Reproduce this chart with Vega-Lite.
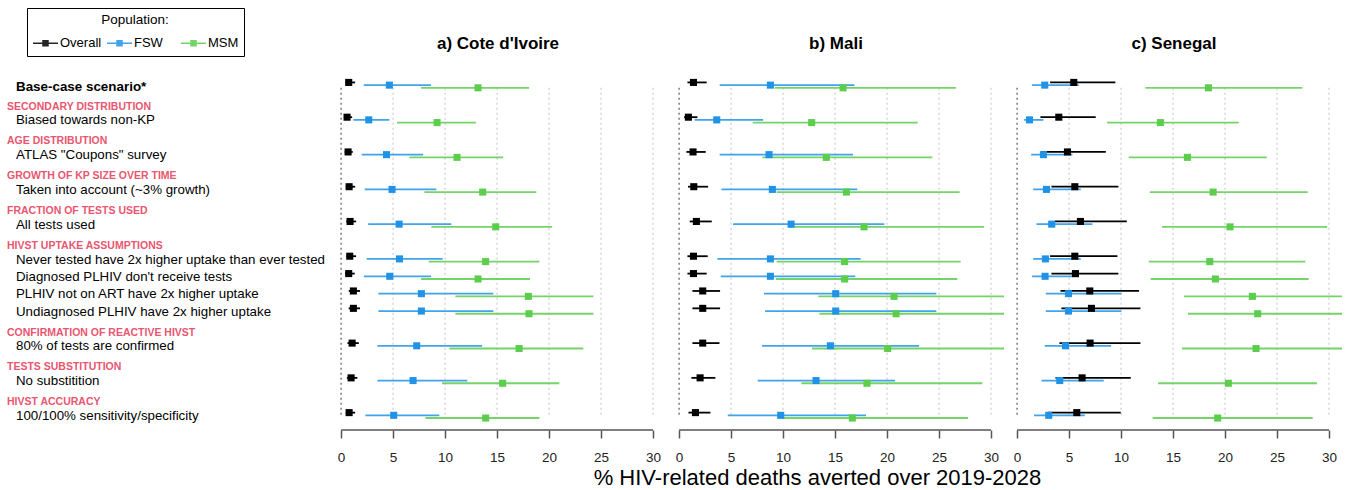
{
  "$schema": "https://vega.github.io/schema/vega-lite/v6.json",
  "background": "white",
  "padding": {"left": 7, "top": 7, "right": 0, "bottom": 0},
  "spacing": 10,
  "bounds": "flush",
  "datasets": {
    "labels": [
      {"t": "Base-case scenario*", "r": 0, "k": "b"},
      {"t": "SECONDARY DISTRIBUTION", "r": 2, "k": "h"},
      {"t": "Biased towards non-KP", "r": 2, "k": "l"},
      {"t": "AGE DISTRIBUTION", "r": 4, "k": "h"},
      {"t": "ATLAS \"Coupons\" survey", "r": 4, "k": "l"},
      {"t": "GROWTH OF KP SIZE OVER TIME", "r": 6, "k": "h"},
      {"t": "Taken into account (~3% growth)", "r": 6, "k": "l"},
      {"t": "FRACTION OF TESTS USED", "r": 8, "k": "h"},
      {"t": "All tests used", "r": 8, "k": "l"},
      {"t": "HIVST UPTAKE ASSUMPTIONS", "r": 10, "k": "h"},
      {"t": "Never tested have 2x higher uptake than ever tested", "r": 10, "k": "l"},
      {"t": "Diagnosed PLHIV don't receive tests", "r": 11, "k": "l"},
      {"t": "PLHIV not on ART have 2x higher uptake", "r": 12, "k": "l"},
      {"t": "Undiagnosed PLHIV have 2x higher uptake", "r": 13, "k": "l"},
      {"t": "CONFIRMATION OF REACTIVE HIVST", "r": 15, "k": "h"},
      {"t": "80% of tests are confirmed", "r": 15, "k": "l"},
      {"t": "TESTS SUBSTITUTION", "r": 17, "k": "h"},
      {"t": "No substitition", "r": 17, "k": "l"},
      {"t": "HIVST ACCURACY", "r": 19, "k": "h"},
      {"t": "100/100% sensitivity/specificity", "r": 19, "k": "l"}
    ],
    "gridvals": [{"v": 0}, {"v": 5}, {"v": 10}, {"v": 15}, {"v": 20}, {"v": 25}, {"v": 30}],
    "single": [{"n": 1}],
    "d": [
      {"c": "a", "r": 0, "g": "Overall", "m": 0.73, "lo": 0.4, "hi": 1.35},
      {"c": "a", "r": 0, "g": "FSW", "m": 4.64, "lo": 2.18, "hi": 8.65},
      {"c": "a", "r": 0, "g": "MSM", "m": 13.17, "lo": 7.69, "hi": 18.08},
      {"c": "a", "r": 2, "g": "Overall", "m": 0.57, "lo": 0.3, "hi": 1.06},
      {"c": "a", "r": 2, "g": "FSW", "m": 2.66, "lo": 1.18, "hi": 4.64},
      {"c": "a", "r": 2, "g": "MSM", "m": 9.23, "lo": 5.38, "hi": 12.98},
      {"c": "a", "r": 4, "g": "Overall", "m": 0.67, "lo": 0.35, "hi": 1.12},
      {"c": "a", "r": 4, "g": "FSW", "m": 4.36, "lo": 1.98, "hi": 7.88},
      {"c": "a", "r": 4, "g": "MSM", "m": 11.15, "lo": 6.57, "hi": 15.58},
      {"c": "a", "r": 6, "g": "Overall", "m": 0.77, "lo": 0.45, "hi": 1.35},
      {"c": "a", "r": 6, "g": "FSW", "m": 4.9, "lo": 2.27, "hi": 9.16},
      {"c": "a", "r": 6, "g": "MSM", "m": 13.62, "lo": 8.01, "hi": 18.78},
      {"c": "a", "r": 8, "g": "Overall", "m": 0.86, "lo": 0.5, "hi": 1.44},
      {"c": "a", "r": 8, "g": "FSW", "m": 5.58, "lo": 2.6, "hi": 10.6},
      {"c": "a", "r": 8, "g": "MSM", "m": 14.87, "lo": 8.68, "hi": 20.29},
      {"c": "a", "r": 10, "g": "Overall", "m": 0.83, "lo": 0.5, "hi": 1.44},
      {"c": "a", "r": 10, "g": "FSW", "m": 5.61, "lo": 2.46, "hi": 9.77},
      {"c": "a", "r": 10, "g": "MSM", "m": 13.9, "lo": 8.42, "hi": 19.07},
      {"c": "a", "r": 11, "g": "Overall", "m": 0.73, "lo": 0.4, "hi": 1.31},
      {"c": "a", "r": 11, "g": "FSW", "m": 4.68, "lo": 2.18, "hi": 8.65},
      {"c": "a", "r": 11, "g": "MSM", "m": 13.17, "lo": 7.69, "hi": 18.17},
      {"c": "a", "r": 12, "g": "Overall", "m": 1.18, "lo": 0.73, "hi": 1.82},
      {"c": "a", "r": 12, "g": "FSW", "m": 7.72, "lo": 3.59, "hi": 14.64},
      {"c": "a", "r": 12, "g": "MSM", "m": 18.01, "lo": 10.99, "hi": 24.26},
      {"c": "a", "r": 13, "g": "Overall", "m": 1.18, "lo": 0.73, "hi": 1.82},
      {"c": "a", "r": 13, "g": "FSW", "m": 7.72, "lo": 3.59, "hi": 14.64},
      {"c": "a", "r": 13, "g": "MSM", "m": 18.07, "lo": 10.99, "hi": 24.26},
      {"c": "a", "r": 15, "g": "Overall", "m": 1.06, "lo": 0.61, "hi": 1.7},
      {"c": "a", "r": 15, "g": "FSW", "m": 7.27, "lo": 3.49, "hi": 13.56},
      {"c": "a", "r": 15, "g": "MSM", "m": 17.12, "lo": 10.41, "hi": 23.3},
      {"c": "a", "r": 17, "g": "Overall", "m": 0.96, "lo": 0.55, "hi": 1.56},
      {"c": "a", "r": 17, "g": "FSW", "m": 6.92, "lo": 3.49, "hi": 12.14},
      {"c": "a", "r": 17, "g": "MSM", "m": 15.54, "lo": 9.71, "hi": 20.99},
      {"c": "a", "r": 19, "g": "Overall", "m": 0.77, "lo": 0.45, "hi": 1.35},
      {"c": "a", "r": 19, "g": "FSW", "m": 5.06, "lo": 2.34, "hi": 9.45},
      {"c": "a", "r": 19, "g": "MSM", "m": 13.9, "lo": 8.11, "hi": 19.07},
      {"c": "b", "r": 0, "g": "Overall", "m": 1.38, "lo": 0.8, "hi": 2.65},
      {"c": "b", "r": 0, "g": "FSW", "m": 8.78, "lo": 3.9, "hi": 16.86},
      {"c": "b", "r": 0, "g": "MSM", "m": 15.77, "lo": 9.19, "hi": 26.63},
      {"c": "b", "r": 2, "g": "Overall", "m": 0.89, "lo": 0.48, "hi": 1.76},
      {"c": "b", "r": 2, "g": "FSW", "m": 3.62, "lo": 1.5, "hi": 8.08},
      {"c": "b", "r": 2, "g": "MSM", "m": 12.75, "lo": 7.08, "hi": 22.94},
      {"c": "b", "r": 4, "g": "Overall", "m": 1.34, "lo": 0.7, "hi": 2.56},
      {"c": "b", "r": 4, "g": "FSW", "m": 8.65, "lo": 3.9, "hi": 16.73},
      {"c": "b", "r": 4, "g": "MSM", "m": 14.16, "lo": 8.01, "hi": 24.36},
      {"c": "b", "r": 6, "g": "Overall", "m": 1.41, "lo": 0.86, "hi": 2.79},
      {"c": "b", "r": 6, "g": "FSW", "m": 8.97, "lo": 4.07, "hi": 17.14},
      {"c": "b", "r": 6, "g": "MSM", "m": 16.09, "lo": 9.38, "hi": 26.98},
      {"c": "b", "r": 8, "g": "Overall", "m": 1.66, "lo": 1.02, "hi": 3.14},
      {"c": "b", "r": 8, "g": "FSW", "m": 10.77, "lo": 5.19, "hi": 19.74},
      {"c": "b", "r": 8, "g": "MSM", "m": 17.79, "lo": 10.58, "hi": 29.33},
      {"c": "b", "r": 10, "g": "Overall", "m": 1.38, "lo": 0.8, "hi": 2.75},
      {"c": "b", "r": 10, "g": "FSW", "m": 8.78, "lo": 3.68, "hi": 17.46},
      {"c": "b", "r": 10, "g": "MSM", "m": 15.92, "lo": 9.38, "hi": 27.08},
      {"c": "b", "r": 11, "g": "Overall", "m": 1.38, "lo": 0.8, "hi": 2.65},
      {"c": "b", "r": 11, "g": "FSW", "m": 8.78, "lo": 4.0, "hi": 16.95},
      {"c": "b", "r": 11, "g": "MSM", "m": 15.92, "lo": 9.29, "hi": 26.76},
      {"c": "b", "r": 12, "g": "Overall", "m": 2.27, "lo": 1.28, "hi": 3.94},
      {"c": "b", "r": 12, "g": "FSW", "m": 15.06, "lo": 8.17, "hi": 24.74},
      {"c": "b", "r": 12, "g": "MSM", "m": 20.67, "lo": 13.39, "hi": 33.5},
      {"c": "b", "r": 13, "g": "Overall", "m": 2.27, "lo": 1.28, "hi": 3.94},
      {"c": "b", "r": 13, "g": "FSW", "m": 15.06, "lo": 8.27, "hi": 24.74},
      {"c": "b", "r": 13, "g": "MSM", "m": 20.87, "lo": 13.49, "hi": 33.7},
      {"c": "b", "r": 15, "g": "Overall", "m": 2.27, "lo": 1.28, "hi": 3.88},
      {"c": "b", "r": 15, "g": "FSW", "m": 14.55, "lo": 7.98, "hi": 23.08},
      {"c": "b", "r": 15, "g": "MSM", "m": 20.06, "lo": 12.79, "hi": 32.4},
      {"c": "b", "r": 17, "g": "Overall", "m": 2.02, "lo": 1.18, "hi": 3.49},
      {"c": "b", "r": 17, "g": "FSW", "m": 13.17, "lo": 7.56, "hi": 20.77},
      {"c": "b", "r": 17, "g": "MSM", "m": 18.07, "lo": 11.76, "hi": 29.16},
      {"c": "b", "r": 19, "g": "Overall", "m": 1.57, "lo": 0.9, "hi": 3.01},
      {"c": "b", "r": 19, "g": "FSW", "m": 9.77, "lo": 4.68, "hi": 17.98},
      {"c": "b", "r": 19, "g": "MSM", "m": 16.66, "lo": 9.77, "hi": 27.79},
      {"c": "c", "r": 0, "g": "Overall", "m": 5.45, "lo": 3.17, "hi": 9.45},
      {"c": "c", "r": 0, "g": "FSW", "m": 2.66, "lo": 1.44, "hi": 5.93},
      {"c": "c", "r": 0, "g": "MSM", "m": 18.4, "lo": 12.34, "hi": 27.44},
      {"c": "c", "r": 2, "g": "Overall", "m": 4.01, "lo": 2.24, "hi": 7.56},
      {"c": "c", "r": 2, "g": "FSW", "m": 1.19, "lo": 0.67, "hi": 2.53},
      {"c": "c", "r": 2, "g": "MSM", "m": 13.78, "lo": 8.65, "hi": 21.31},
      {"c": "c", "r": 4, "g": "Overall", "m": 4.84, "lo": 2.34, "hi": 8.53},
      {"c": "c", "r": 4, "g": "FSW", "m": 2.53, "lo": 1.35, "hi": 5.32},
      {"c": "c", "r": 4, "g": "MSM", "m": 16.38, "lo": 10.74, "hi": 24.01},
      {"c": "c", "r": 6, "g": "Overall", "m": 5.55, "lo": 3.3, "hi": 9.74},
      {"c": "c", "r": 6, "g": "FSW", "m": 2.82, "lo": 1.54, "hi": 6.12},
      {"c": "c", "r": 6, "g": "MSM", "m": 18.85, "lo": 12.76, "hi": 27.95},
      {"c": "c", "r": 8, "g": "Overall", "m": 6.09, "lo": 3.62, "hi": 10.55},
      {"c": "c", "r": 8, "g": "FSW", "m": 3.33, "lo": 1.86, "hi": 7.24},
      {"c": "c", "r": 8, "g": "MSM", "m": 20.48, "lo": 13.94, "hi": 29.81},
      {"c": "c", "r": 10, "g": "Overall", "m": 5.55, "lo": 3.17, "hi": 9.65},
      {"c": "c", "r": 10, "g": "FSW", "m": 2.72, "lo": 1.54, "hi": 6.12},
      {"c": "c", "r": 10, "g": "MSM", "m": 18.53, "lo": 12.66, "hi": 27.72},
      {"c": "c", "r": 11, "g": "Overall", "m": 5.61, "lo": 3.3, "hi": 9.74},
      {"c": "c", "r": 11, "g": "FSW", "m": 2.69, "lo": 1.44, "hi": 5.93},
      {"c": "c", "r": 11, "g": "MSM", "m": 19.07, "lo": 12.85, "hi": 28.04},
      {"c": "c", "r": 12, "g": "Overall", "m": 6.99, "lo": 4.17, "hi": 11.73},
      {"c": "c", "r": 12, "g": "FSW", "m": 4.94, "lo": 2.76, "hi": 10.03},
      {"c": "c", "r": 12, "g": "MSM", "m": 22.63, "lo": 16.06, "hi": 32.5},
      {"c": "c", "r": 13, "g": "Overall", "m": 7.15, "lo": 4.26, "hi": 11.86},
      {"c": "c", "r": 13, "g": "FSW", "m": 4.94, "lo": 2.76, "hi": 10.03},
      {"c": "c", "r": 13, "g": "MSM", "m": 23.14, "lo": 16.44, "hi": 33.0},
      {"c": "c", "r": 15, "g": "Overall", "m": 7.02, "lo": 4.07, "hi": 11.86},
      {"c": "c", "r": 15, "g": "FSW", "m": 4.65, "lo": 2.66, "hi": 9.04},
      {"c": "c", "r": 15, "g": "MSM", "m": 22.98, "lo": 15.87, "hi": 32.8},
      {"c": "c", "r": 17, "g": "Overall", "m": 6.25, "lo": 3.69, "hi": 10.93},
      {"c": "c", "r": 17, "g": "FSW", "m": 4.1, "lo": 2.34, "hi": 8.33},
      {"c": "c", "r": 17, "g": "MSM", "m": 20.32, "lo": 13.56, "hi": 28.85},
      {"c": "c", "r": 19, "g": "Overall", "m": 5.74, "lo": 2.98, "hi": 9.97},
      {"c": "c", "r": 19, "g": "FSW", "m": 3.04, "lo": 1.63, "hi": 6.51},
      {"c": "c", "r": 19, "g": "MSM", "m": 19.29, "lo": 13.04, "hi": 28.43}
    ]
  },
  "hconcat": [
    {
      "width": 321, "height": 358,
      "data": {"name": "labels"},
      "encoding": {
        "x": {"datum": 0, "type": "quantitative", "scale": {"domain": [0, 100], "nice": false, "zero": false}, "axis": null},
        "y": {"field": "r", "type": "quantitative", "scale": {"domain": [-0.6, 20], "reverse": true, "nice": false, "zero": false}, "axis": null},
        "text": {"field": "t"}
      },
      "layer": [
        {"transform": [{"filter": "datum.k === 'h'"}], "mark": {"type": "text", "align": "left", "baseline": "middle", "font": "Liberation Sans", "fontSize": 10.5, "fontWeight": "bold", "color": "#e9566f", "dy": -10.6}},
        {"transform": [{"filter": "datum.k === 'l'"}], "mark": {"type": "text", "align": "left", "baseline": "middle", "font": "Liberation Sans", "fontSize": 13.3, "color": "#000000", "dx": 9, "dy": 3.3}},
        {"transform": [{"filter": "datum.k === 'b'"}], "mark": {"type": "text", "align": "left", "baseline": "middle", "font": "Liberation Sans", "fontSize": 13.4, "fontWeight": "bold", "color": "#000000", "dx": 9, "dy": 4.3}}
      ]
    },
    {
      "width": 328, "height": 358,
      "title": {"text": "a) Cote d'Ivoire", "dx": -4},
      "layer": [
        {"data": {"name": "gridvals"},
         "mark": {"type": "rule", "strokeDash": [2, 3], "strokeWidth": 1.5},
         "encoding": {
           "x": {"field": "v", "type": "quantitative", "scale": {"domain": [-0.3, 31.25], "nice": false, "zero": false}, "axis": {"values": [0, 5, 10, 15, 20, 25, 30], "title": null}},
           "y": {"datum": 0.3, "type": "quantitative", "scale": {"domain": [-0.6, 20], "reverse": true, "nice": false, "zero": false}, "axis": null},
           "y2": {"datum": 19.23},
           "color": {"condition": {"test": "datum.v === 0", "value": "#7a7a7a"}, "value": "#d6d6d6"}}},
        {"data": {"name": "single"}, "mark": {"type": "rule", "strokeWidth": 1.5, "color": "#555555"},
         "encoding": {"x": {"datum": 0, "type": "quantitative"}, "x2": {"datum": 30}, "y": {"datum": 20, "type": "quantitative"}}},
        {"data": {"name": "d"}, "transform": [{"filter": "datum.c === 'a' && datum.g === 'Overall'"}], "mark": {"type": "rule", "clip": true, "strokeWidth": 1.8},
         "encoding": {"x": {"field": "lo", "type": "quantitative"}, "x2": {"field": "hi"}, "y": {"field": "r", "type": "quantitative"},
           "color": {"field": "g", "type": "nominal", "scale": {"domain": ["Overall", "FSW", "MSM"], "range": ["#000000", "#2093e6", "#5ccd4d"]},
             "legend": {"title": "Population:", "orient": "none", "legendX": 20, "legendY": -64, "direction": "horizontal", "columns": 3, "gridAlign": "all", "columnPadding": 2, "labelOffset": 1, "padding": 5, "strokeColor": "#000000", "titleAnchor": "middle", "titleFontSize": 13.5, "titleFontWeight": "normal", "titleFont": "Liberation Sans", "titleColor": "#000000", "titlePadding": 3, "labelFontSize": 13, "labelFont": "Liberation Sans", "labelColor": "#000000", "symbolSize": 625, "symbolStrokeWidth": 1.5, "symbolType": "M-1,0H1M-0.2,-0.2H0.2V0.2H-0.2Z", "symbolOpacity": 1}}}},
        {"data": {"name": "d"}, "transform": [{"filter": "datum.c === 'a' && datum.g === 'FSW'"}], "mark": {"type": "rule", "clip": true, "strokeWidth": 1.8, "opacity": 0.85, "yOffset": 2.7},
         "encoding": {"x": {"field": "lo", "type": "quantitative"}, "x2": {"field": "hi"}, "y": {"field": "r", "type": "quantitative"}, "color": {"field": "g", "type": "nominal"}}},
        {"data": {"name": "d"}, "transform": [{"filter": "datum.c === 'a' && datum.g === 'MSM'"}], "mark": {"type": "rule", "clip": true, "strokeWidth": 1.8, "opacity": 0.85, "yOffset": 5.4},
         "encoding": {"x": {"field": "lo", "type": "quantitative"}, "x2": {"field": "hi"}, "y": {"field": "r", "type": "quantitative"}, "color": {"field": "g", "type": "nominal"}}},
        {"data": {"name": "d"}, "transform": [{"filter": "datum.c === 'a' && datum.g === 'Overall'"}], "mark": {"type": "square", "filled": true, "opacity": 1, "size": 50},
         "encoding": {"x": {"field": "m", "type": "quantitative"}, "y": {"field": "r", "type": "quantitative"}, "color": {"field": "g", "type": "nominal"}}},
        {"data": {"name": "d"}, "transform": [{"filter": "datum.c === 'a' && datum.g === 'FSW'"}], "mark": {"type": "square", "filled": true, "opacity": 1, "size": 50, "yOffset": 2.7},
         "encoding": {"x": {"field": "m", "type": "quantitative"}, "y": {"field": "r", "type": "quantitative"}, "color": {"field": "g", "type": "nominal"}}},
        {"data": {"name": "d"}, "transform": [{"filter": "datum.c === 'a' && datum.g === 'MSM'"}], "mark": {"type": "square", "filled": true, "opacity": 1, "size": 50, "yOffset": 5.4},
         "encoding": {"x": {"field": "m", "type": "quantitative"}, "y": {"field": "r", "type": "quantitative"}, "color": {"field": "g", "type": "nominal"}}}
      ]
    },
    {
      "width": 328, "height": 358,
      "title": {"text": "b) Mali", "dx": -4},
      "layer": [
        {"data": {"name": "gridvals"},
         "mark": {"type": "rule", "strokeDash": [2, 3], "strokeWidth": 1.5},
         "encoding": {
           "x": {"field": "v", "type": "quantitative", "scale": {"domain": [-0.3, 31.25], "nice": false, "zero": false}, "axis": {"values": [0, 5, 10, 15, 20, 25, 30], "title": "% HIV-related deaths averted over 2019-2028", "titleFontSize": 22, "titleFontWeight": "normal", "titleFont": "Liberation Sans", "titleColor": "#000000", "titleX": 141, "titleY": 54, "titleAlign": "center", "titleBaseline": "alphabetic", "titleAnchor": null}},
           "y": {"datum": 0.3, "type": "quantitative", "scale": {"domain": [-0.6, 20], "reverse": true, "nice": false, "zero": false}, "axis": null},
           "y2": {"datum": 19.23},
           "color": {"condition": {"test": "datum.v === 0", "value": "#7a7a7a"}, "value": "#d6d6d6"}}},
        {"data": {"name": "single"}, "mark": {"type": "rule", "strokeWidth": 1.5, "color": "#555555"},
         "encoding": {"x": {"datum": 0, "type": "quantitative"}, "x2": {"datum": 30}, "y": {"datum": 20, "type": "quantitative"}}},
        {"data": {"name": "d"}, "transform": [{"filter": "datum.c === 'b' && datum.g === 'Overall'"}], "mark": {"type": "rule", "clip": true, "strokeWidth": 1.8},
         "encoding": {"x": {"field": "lo", "type": "quantitative"}, "x2": {"field": "hi"}, "y": {"field": "r", "type": "quantitative"}, "color": {"field": "g", "type": "nominal", "scale": {"domain": ["Overall", "FSW", "MSM"], "range": ["#000000", "#2093e6", "#5ccd4d"]}}}},
        {"data": {"name": "d"}, "transform": [{"filter": "datum.c === 'b' && datum.g === 'FSW'"}], "mark": {"type": "rule", "clip": true, "strokeWidth": 1.8, "opacity": 0.85, "yOffset": 2.7},
         "encoding": {"x": {"field": "lo", "type": "quantitative"}, "x2": {"field": "hi"}, "y": {"field": "r", "type": "quantitative"}, "color": {"field": "g", "type": "nominal"}}},
        {"data": {"name": "d"}, "transform": [{"filter": "datum.c === 'b' && datum.g === 'MSM'"}], "mark": {"type": "rule", "clip": true, "strokeWidth": 1.8, "opacity": 0.85, "yOffset": 5.4},
         "encoding": {"x": {"field": "lo", "type": "quantitative"}, "x2": {"field": "hi"}, "y": {"field": "r", "type": "quantitative"}, "color": {"field": "g", "type": "nominal"}}},
        {"data": {"name": "d"}, "transform": [{"filter": "datum.c === 'b' && datum.g === 'Overall'"}], "mark": {"type": "square", "filled": true, "opacity": 1, "size": 50},
         "encoding": {"x": {"field": "m", "type": "quantitative"}, "y": {"field": "r", "type": "quantitative"}, "color": {"field": "g", "type": "nominal"}}},
        {"data": {"name": "d"}, "transform": [{"filter": "datum.c === 'b' && datum.g === 'FSW'"}], "mark": {"type": "square", "filled": true, "opacity": 1, "size": 50, "yOffset": 2.7},
         "encoding": {"x": {"field": "m", "type": "quantitative"}, "y": {"field": "r", "type": "quantitative"}, "color": {"field": "g", "type": "nominal"}}},
        {"data": {"name": "d"}, "transform": [{"filter": "datum.c === 'b' && datum.g === 'MSM'"}], "mark": {"type": "square", "filled": true, "opacity": 1, "size": 50, "yOffset": 5.4},
         "encoding": {"x": {"field": "m", "type": "quantitative"}, "y": {"field": "r", "type": "quantitative"}, "color": {"field": "g", "type": "nominal"}}}
      ]
    },
    {
      "width": 328, "height": 358,
      "title": {"text": "c) Senegal", "dx": -4},
      "layer": [
        {"data": {"name": "gridvals"},
         "mark": {"type": "rule", "strokeDash": [2, 3], "strokeWidth": 1.5},
         "encoding": {
           "x": {"field": "v", "type": "quantitative", "scale": {"domain": [-0.3, 31.25], "nice": false, "zero": false}, "axis": {"values": [0, 5, 10, 15, 20, 25, 30], "title": null}},
           "y": {"datum": 0.3, "type": "quantitative", "scale": {"domain": [-0.6, 20], "reverse": true, "nice": false, "zero": false}, "axis": null},
           "y2": {"datum": 19.23},
           "color": {"condition": {"test": "datum.v === 0", "value": "#7a7a7a"}, "value": "#d6d6d6"}}},
        {"data": {"name": "single"}, "mark": {"type": "rule", "strokeWidth": 1.5, "color": "#555555"},
         "encoding": {"x": {"datum": 0, "type": "quantitative"}, "x2": {"datum": 30}, "y": {"datum": 20, "type": "quantitative"}}},
        {"data": {"name": "d"}, "transform": [{"filter": "datum.c === 'c' && datum.g === 'Overall'"}], "mark": {"type": "rule", "clip": true, "strokeWidth": 1.8},
         "encoding": {"x": {"field": "lo", "type": "quantitative"}, "x2": {"field": "hi"}, "y": {"field": "r", "type": "quantitative"}, "color": {"field": "g", "type": "nominal", "scale": {"domain": ["Overall", "FSW", "MSM"], "range": ["#000000", "#2093e6", "#5ccd4d"]}}}},
        {"data": {"name": "d"}, "transform": [{"filter": "datum.c === 'c' && datum.g === 'FSW'"}], "mark": {"type": "rule", "clip": true, "strokeWidth": 1.8, "opacity": 0.85, "yOffset": 2.7},
         "encoding": {"x": {"field": "lo", "type": "quantitative"}, "x2": {"field": "hi"}, "y": {"field": "r", "type": "quantitative"}, "color": {"field": "g", "type": "nominal"}}},
        {"data": {"name": "d"}, "transform": [{"filter": "datum.c === 'c' && datum.g === 'MSM'"}], "mark": {"type": "rule", "clip": true, "strokeWidth": 1.8, "opacity": 0.85, "yOffset": 5.4},
         "encoding": {"x": {"field": "lo", "type": "quantitative"}, "x2": {"field": "hi"}, "y": {"field": "r", "type": "quantitative"}, "color": {"field": "g", "type": "nominal"}}},
        {"data": {"name": "d"}, "transform": [{"filter": "datum.c === 'c' && datum.g === 'Overall'"}], "mark": {"type": "square", "filled": true, "opacity": 1, "size": 50},
         "encoding": {"x": {"field": "m", "type": "quantitative"}, "y": {"field": "r", "type": "quantitative"}, "color": {"field": "g", "type": "nominal"}}},
        {"data": {"name": "d"}, "transform": [{"filter": "datum.c === 'c' && datum.g === 'FSW'"}], "mark": {"type": "square", "filled": true, "opacity": 1, "size": 50, "yOffset": 2.7},
         "encoding": {"x": {"field": "m", "type": "quantitative"}, "y": {"field": "r", "type": "quantitative"}, "color": {"field": "g", "type": "nominal"}}},
        {"data": {"name": "d"}, "transform": [{"filter": "datum.c === 'c' && datum.g === 'MSM'"}], "mark": {"type": "square", "filled": true, "opacity": 1, "size": 50, "yOffset": 5.4},
         "encoding": {"x": {"field": "m", "type": "quantitative"}, "y": {"field": "r", "type": "quantitative"}, "color": {"field": "g", "type": "nominal"}}}
      ]
    }
  ],
  "config": {
    "view": {"stroke": null},
    "font": "Liberation Sans",
    "title": {"font": "Liberation Sans", "fontSize": 17, "fontWeight": "bold", "color": "#000000", "anchor": "middle", "offset": 19, "baseline": "bottom"},
    "axisX": {"domain": false, "grid": false, "ticks": true, "tickSize": 8, "tickColor": "#555555", "tickWidth": 1.5, "labelFontSize": 13.5, "labelColor": "#222222", "labelPadding": 12, "labelFont": "Liberation Sans", "labelFlush": false, "labelOverlap": false}
  }
}
